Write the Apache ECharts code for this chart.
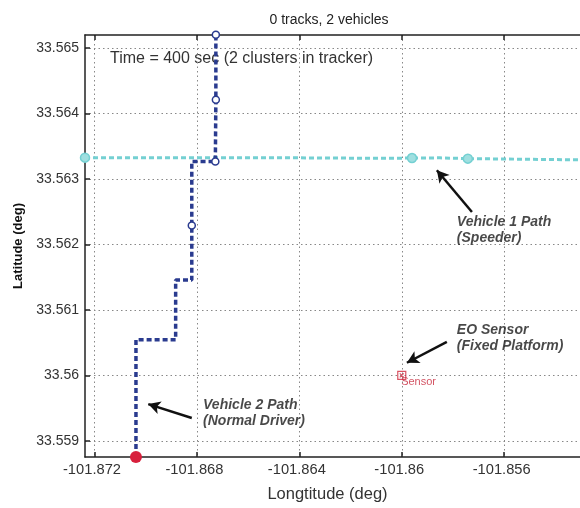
<!DOCTYPE html>
<html>
<head>
<meta charset="utf-8">
<script src="https://cdn.jsdelivr.net/npm/echarts@6/dist/echarts.min.js"></script>
<style>
html,body{margin:0;padding:0;background:#fff;}
#chart{width:580px;height:508px;}
</style>
</head>
<body>
<div id="chart"></div>
<script>
// ---- data ----
const xTicks = [-101.872, -101.868, -101.864, -101.86, -101.856];
const yTicks = [33.559, 33.56, 33.561, 33.562, 33.563, 33.564, 33.565];
const xRange = [-101.87237, -101.85304];
const yRange = [33.558753, 33.565197];

// Vehicle 1 (speeder) path
const v1Lon = [-101.87237, -101.86398, -101.86085, -101.85960, -101.85851, -101.85742, -101.85304];
const v1Lat = [33.563324, 33.563321, 33.563314, 33.563318, 33.563321, 33.563309, 33.563291];
const v1Mark = [true, false, false, true, false, true, false];

// Vehicle 2 (normal driver) path
const v2Lon = [-101.87038, -101.87038, -101.86883, -101.86883, -101.86820, -101.86820, -101.86820, -101.86728, -101.86726, -101.86726];
const v2Lat = [33.558753, 33.560545, 33.560545, 33.561455, 33.561455, 33.562288, 33.563264, 33.563264, 33.564208, 33.565200];
const v2Mark = [false, false, false, false, false, true, false, true, true, true];

// EO sensor
const sensorLon = [-101.86];
const sensorLat = [33.56];
const sensorName = ['Sensor'];

// Annotations
const noteText = ['Vehicle 1 Path\n(Speeder)', 'EO Sensor\n(Fixed Platform)', 'Vehicle 2 Path\n(Normal Driver)'];
const noteLon = [-101.85785, -101.85785, -101.86776];
const noteLat = [33.562223, 33.560564, 33.559427];
const arrowFromLon = [-101.85726, -101.85824, -101.86820];
const arrowFromLat = [33.562495, 33.560511, 33.559348];
const arrowToLon = [-101.85863, -101.85980, -101.86990];
const arrowToLat = [33.563132, 33.560192, 33.559561];

const titleText = '0 tracks, 2 vehicles';
const timeText = 'Time = 400 sec (2 clusters in tracker)';

// ---- chart ----
const FONT = '"Liberation Sans", Arial, sans-serif';
const NAVY = '#2a3b8f';
const CYAN = '#74d0d2';
const fmt = v => String(+(+v).toFixed(3));

const v1Data = v1Lon.map((x, i) => ({
  value: [x, v1Lat[i]],
  symbol: v1Mark[i] ? 'circle' : 'none'
}));
const v2Data = v2Lon.map((x, i) => {
  if (i === 0) return {value: [x, v2Lat[i]], symbol: 'circle', symbolSize: 12,
    itemStyle: {color: '#d8203c', borderColor: '#d8203c', borderWidth: 0}};
  return {value: [x, v2Lat[i]], symbol: v2Mark[i] ? 'circle' : 'none'};
});

const chart = echarts.init(document.getElementById('chart'), null, {renderer: 'canvas'});
chart.setOption({
  animation: false,
  backgroundColor: '#fff',
  textStyle: {fontFamily: FONT},
  grid: {left: 85, top: 35, right: 0, bottom: 48, containLabel: false},
  graphic: [
    {type: 'text', x: 329, y: 20, z: 0,
      style: {text: titleText, font: '14px ' + FONT, fill: '#222', align: 'center', verticalAlign: 'middle'}},
    {type: 'text', x: 110, y: 59, z: 0,
      style: {text: timeText, font: '16px ' + FONT, fill: '#333', align: 'left', verticalAlign: 'middle'}}
  ],
  xAxis: [{
    type: 'value', min: xRange[0], max: xRange[1], position: 'bottom',
    name: 'Longtitude (deg)', nameLocation: 'middle', nameGap: 29,
    nameTextStyle: {fontSize: 16.5, color: '#333', fontFamily: FONT, padding: [0, 10, 0, 0]},
    axisLine: {show: true, onZero: false, lineStyle: {color: '#222', width: 1.5}},
    axisTick: {show: true, inside: true, length: 5, customValues: xTicks, lineStyle: {color: '#222', width: 1.5}},
    axisLabel: {show: true, customValues: xTicks, formatter: fmt, fontSize: 14.7, color: '#333', margin: 5,
      padding: [0, 5, 0, 0], fontFamily: FONT},
    splitLine: {show: true, lineStyle: {color: '#888', type: [1.5, 3], width: 1}}
  }, {
    type: 'value', min: xRange[0], max: xRange[1], position: 'top',
    axisLine: {show: true, onZero: false, lineStyle: {color: '#222', width: 1.5}},
    axisTick: {show: true, inside: true, length: 5, customValues: xTicks, lineStyle: {color: '#222', width: 1.5}},
    axisLabel: {show: false},
    splitLine: {show: false}
  }],
  yAxis: {
    type: 'value', min: yRange[0], max: yRange[1],
    name: 'Latitude (deg)', nameLocation: 'middle', nameGap: 57,
    nameTextStyle: {fontSize: 13, fontWeight: 'bold', color: '#111', fontFamily: FONT},
    axisLine: {show: true, onZero: false, lineStyle: {color: '#222', width: 1.5}},
    axisTick: {show: true, inside: true, length: 5, customValues: yTicks, lineStyle: {color: '#222', width: 1.5}},
    axisLabel: {show: true, customValues: yTicks, formatter: fmt, fontSize: 14, color: '#333', margin: 6, fontFamily: FONT},
    splitLine: {show: true, lineStyle: {color: '#888', type: [1.5, 3], width: 1}}
  },
  series: [
    {
      name: 'Vehicle 1', type: 'line', data: v1Data, clip: false, z: 3,
      showSymbol: true, symbolSize: 9,
      lineStyle: {color: CYAN, width: 3, type: [5, 3]},
      itemStyle: {color: '#9fdfe0', borderColor: CYAN, borderWidth: 1.5}
    },
    {
      name: 'Vehicle 2', type: 'line', data: v2Data, clip: false, z: 4,
      showSymbol: true, symbolSize: 7,
      lineStyle: {color: NAVY, width: 3.5, type: [5, 3]},
      itemStyle: {color: '#fff', borderColor: NAVY, borderWidth: 1.5}
    },
    {
      name: 'Sensor', type: 'scatter', z: 5,
      data: sensorLon.map((x, i) => ({value: [x, sensorLat[i]], name: sensorName[i]})),
      symbol: 'path://M0,0L10,0L10,10L0,10Z M2.5,2.5L7.5,7.5 M7.5,2.5L2.5,7.5',
      symbolSize: 8,
      itemStyle: {color: 'rgba(255,255,255,0)', borderColor: '#d0283c', borderWidth: 1.2},
      label: {show: true, formatter: '{b}', position: [4, 6], color: '#c8283c', fontSize: 11, fontFamily: FONT},
      markLine: {
        silent: true, symbol: ['none', 'arrow'], symbolSize: [10, 12], precision: 6,
        label: {show: false},
        lineStyle: {color: '#111', width: 2.5, type: 'solid'},
        emphasis: {disabled: true},
        data: arrowFromLon.map((x, i) => [
          {coord: [x, arrowFromLat[i]]},
          {coord: [arrowToLon[i], arrowToLat[i]]}
        ])
      }
    },
    {
      name: 'Notes', type: 'scatter', z: 6, silent: true,
      symbolSize: 0,
      data: noteLon.map((x, i) => ({value: [x, noteLat[i]], name: noteText[i]})),
      label: {show: true, position: 'right', distance: 0, formatter: '{b}', align: 'left',
        fontSize: 14, fontWeight: 'bold', fontStyle: 'italic', color: '#1a1a1a', lineHeight: 16, fontFamily: FONT}
    }
  ]
});
</script>
</body>
</html>
